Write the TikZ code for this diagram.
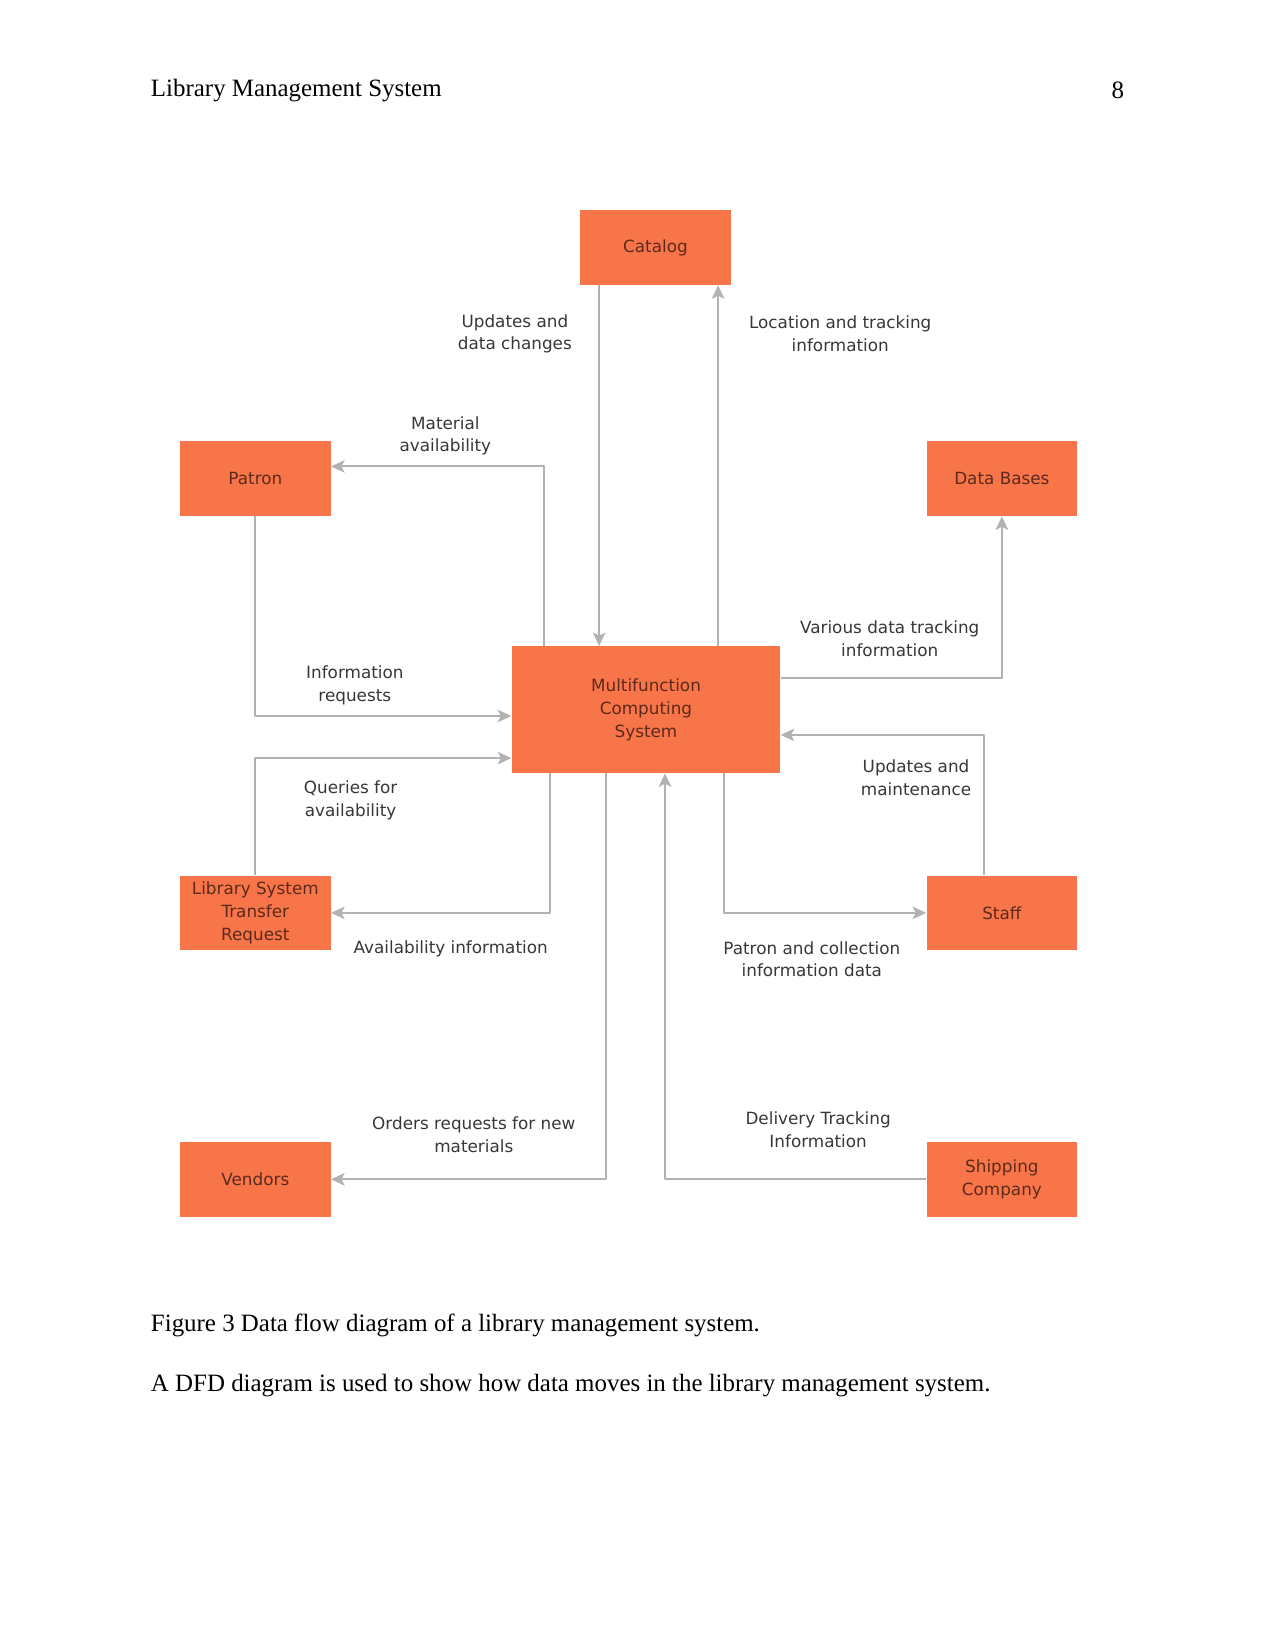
\documentclass[tikz,border=0pt]{standalone}
\usepackage{fontspec}
\setmainfont{Liberation Serif}
\newfontfamily\dfdfont{DejaVu Sans}
\usetikzlibrary{calc,arrows.meta}
\definecolor{boxorange}{RGB}{247,117,72}
\definecolor{boxtext}{RGB}{92,42,28}
\definecolor{flowgray}{RGB}{178,178,178}
\definecolor{labelgray}{RGB}{55,55,55}
\begin{document}
\begin{tikzpicture}[x=0.017828cm, y=-0.017828cm, line join=round,
  entity/.style={fill=boxorange, text=boxtext, align=center, inner sep=0pt,
    font=\dfdfont\fontsize{8.1}{11}\selectfont,
    minimum width=2.55cm, minimum height=1.266cm},
  flow/.style={draw=flowgray, line width=1pt, -{Stealth[length=6.5pt, width=6pt, inset=1.5pt]}},
  flowlabel/.style={text=labelgray, align=center, inner sep=0pt,
    font=\dfdfont\fontsize{8.1}{11}\selectfont},
  pagetext/.style={inner sep=0pt, font=\fontsize{12}{14}\selectfont}]
  % page frame (letter page, measured in pixels, y downwards)
  \useasboundingbox (0,0) rectangle (1211,1568);

  % Running head
  \node[pagetext, anchor=west] (head) at (143,86) {Library Management System};
  \node[pagetext, anchor=east] (page) at (1068,86) {8};

  % External entities and the central process
  \node[entity] (catalog) at (622.5,235) {Catalog};
  \node[entity] (patron) at (242.5,454.5) {Patron};
  \node[entity] (databases) at (951.5,454.5) {Data Bases};
  \node[entity, minimum width=4.546cm, minimum height=2.139cm] (mcs) at (613.5,674)
    {Multifunction\\Computing\\System};
  \node[entity] (lstr) at (242.5,867) {Library System\\Transfer\\Request};
  \node[entity] (staff) at (951.5,867) {Staff};
  \node[entity] (vendors) at (242.5,1120) {Vendors};
  \node[entity] (shipping) at (951.5,1120) {Shipping\\Company};

  % Flows to and from the catalog
  \draw[flow] ($(catalog.south)+(-53.5,0)$) -- ($(catalog.south |- mcs.north)+(-53.5,0)$);
  \draw[flow] ($(mcs.north)+(68.5,0)$) -- ($(mcs.north |- catalog.south)+(68.5,0)$);

  % Left side flows
  \draw[flow] ($(mcs.north west)+(31,0)$) |- ($(patron.east)+(0,-11.5)$);
  \draw[flow] (patron.south) |- ($(mcs.west)+(0,6)$);
  \draw[flow] (lstr.north) |- ($(mcs.west)+(0,46)$);
  \draw[flow] ($(mcs.south west)+(37,0)$) |- (lstr.east);
  \draw[flow] ($(mcs.south west)+(90,0)$) |- (vendors.east);

  % Right side flows
  \draw[flow] (shipping.west) -| ($(mcs.south west)+(146,0)$);
  \draw[flow] ($(mcs.south west)+(202,0)$) |- (staff.west);
  \draw[flow] ($(staff.north)+(-17,0)$) |- ($(mcs.east)+(0,24)$);
  \draw[flow] ($(mcs.east)+(0,-30)$) -| (databases.south);

  % Flow labels
  \node[flowlabel] (lupd) at (489,317) {Updates and\\data changes};
  \node[flowlabel] (lloc) at (798,317) {Location and tracking\\information};
  \node[flowlabel] (lmat) at (423,414) {Material\\availability};
  \node[flowlabel] (linf) at (337,651) {Information\\requests};
  \node[flowlabel] (lvar) at (845,607) {Various data tracking\\information};
  \node[flowlabel] (lque) at (333,760) {Queries for\\availability};
  \node[flowlabel] (lmnt) at (870,739) {Updates and\\maintenance};
  \node[flowlabel] (lava) at (428,901) {Availability information};
  \node[flowlabel] (lpat) at (771,911) {Patron and collection\\information data};
  \node[flowlabel] (lord) at (450,1078) {Orders requests for new\\materials};
  \node[flowlabel] (ldel) at (777,1073) {Delivery Tracking\\Information};

  % Caption and body text
  \node[pagetext, anchor=west] (caption) at (143,1259)
    {Figure 3 Data flow diagram of a library management system.};
  \node[pagetext, anchor=west] (body) at (143,1316)
    {A DFD diagram is used to show how data moves in the library management system.};
\end{tikzpicture}
\end{document}
